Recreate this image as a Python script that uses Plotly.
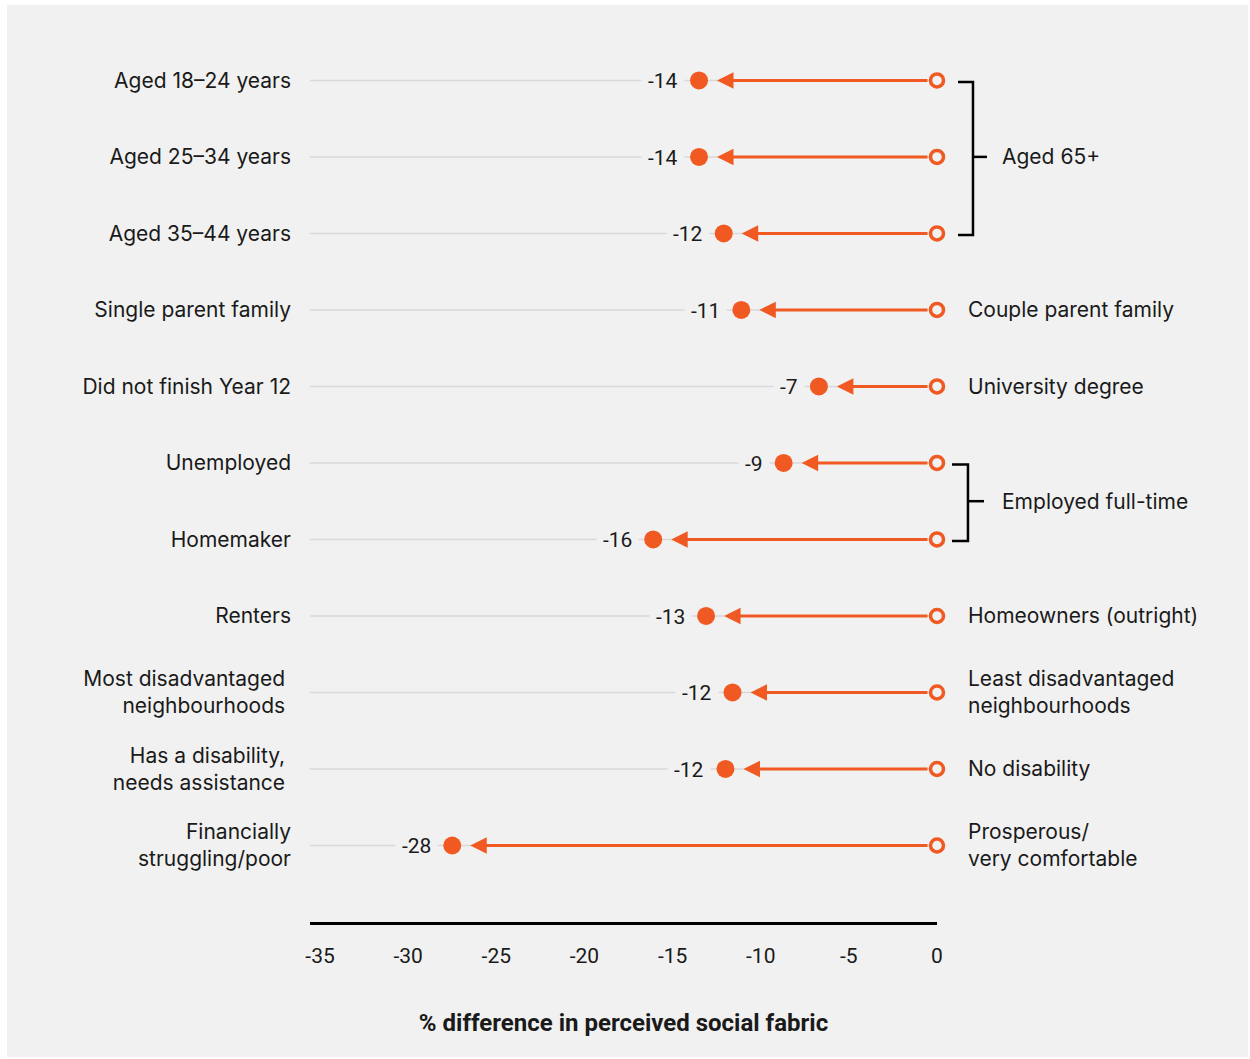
import plotly.graph_objects as go

# ---------------- data ----------------
left_labels = [
    "Aged 18–24 years", "Aged 25–34 years", "Aged 35–44 years",
    "Single parent family", "Did not finish Year 12", "Unemployed",
    "Homemaker", "Renters", "Most disadvantaged <br>neighbourhoods ",
    "Has a disability, <br>needs assistance ", "Financially<br>struggling/poor",
]
right_labels = [
    "", "", "", "Couple parent family", "University degree", "", "",
    "Homeowners (outright)", "Least disadvantaged<br>neighbourhoods",
    "No disability", "Prosperous/<br>very comfortable",
]
values = [-13.5, -13.5, -12.1, -11.1, -6.7, -8.7, -16.1, -13.1, -11.6, -12.0, -27.5]
value_text = ["-14", "-14", "-12", "-11", "-7", "-9", "-16", "-13", "-12", "-12", "-28"]
reference_value = [0] * len(values)
groups = [("Aged 65+", 0, 2), ("Employed full-time", 5, 6)]
x_ticks = [-35, -30, -25, -20, -15, -10, -5, 0]
x_title = "% difference in perceived social fabric"

# ---------------- style ----------------
ORANGE = "#F05A22"
BG = "#F1F1F1"
GRID = "#D9D9D9"
TXT = "#1A1A1A"
LABEL_FONT = "Inter, 'Noto Sans', sans-serif"
NUM_FONT = "Roboto, 'Liberation Sans', sans-serif"
XMIN = -35.57

rows = list(range(len(values)))

fig = go.Figure()

# grey guide lines
gx, gy = [], []
for r in rows:
    gx += [XMIN, 0, None]
    gy += [r, r, None]
fig.add_trace(go.Scatter(x=gx, y=gy, mode="lines",
                         line=dict(color=GRID, width=1.5),
                         hoverinfo="skip", showlegend=False, cliponaxis=False))

# filled dots (comparison group)
fig.add_trace(go.Scatter(x=values, y=rows, mode="markers",
                         marker=dict(size=18, color=ORANGE),
                         showlegend=False, cliponaxis=False))
# hollow dots (reference group)
fig.add_trace(go.Scatter(x=reference_value, y=rows, mode="markers",
                         marker=dict(size=13, color=BG, line=dict(color=ORANGE, width=3.5)),
                         showlegend=False, cliponaxis=False))

annotations = []
for r, v, t in zip(rows, values, value_text):
    # arrow from reference to value
    annotations.append(dict(
        x=v, y=r, ax=0, ay=r, xref="x", yref="y", axref="x", ayref="y",
        text="", showarrow=True, arrowhead=2, arrowsize=1.1, arrowwidth=3,
        arrowcolor=ORANGE, standoff=18, startstandoff=8,
    ))
    # value label
    annotations.append(dict(
        x=v, y=r, xref="x", yref="y", text=t, showarrow=False,
        xanchor="right", yanchor="middle", xshift=-14, yshift=-1,
        bgcolor=BG, borderpad=6,
        font=dict(family=NUM_FONT, size=21, color=TXT),
    ))

for r, lab in zip(rows, right_labels):
    if lab:
        annotations.append(dict(
            x=0, y=r, xref="x", yref="y", text=lab, showarrow=False,
            xanchor="left", yanchor="middle", align="left", xshift=29,
            font=dict(family=LABEL_FONT, size=21, color=TXT),
        ))

shapes = []
bracket_specs = [(1.0335, 1.0574, 1.0797), (1.0239, 1.0494, 1.0750)]
for (lab, r0, r1), (bx0, bx1, bx2) in zip(groups, bracket_specs):
    mid = (r0 + r1) / 2
    shapes.append(dict(
        type="path", xref="paper", yref="y",
        path=f"M{bx0},{r0 + 0.02} L{bx1},{r0 + 0.02} L{bx1},{r1 + 0.02} L{bx0},{r1 + 0.02}",
        line=dict(color="black", width=2.5),
    ))
    shapes.append(dict(
        type="line", xref="paper", yref="y",
        x0=bx1, x1=bx2, y0=mid, y1=mid,
        line=dict(color="black", width=2.5),
    ))
    annotations.append(dict(
        x=0, y=mid, xref="x", yref="y", text=lab, showarrow=False,
        xanchor="left", yanchor="middle", xshift=63,
        font=dict(family=LABEL_FONT, size=21, color=TXT),
    ))

# grey panel background with white border
shapes.append(dict(type="rect", xref="paper", yref="paper",
                   x0=-0.48325, x1=1.49601, y0=-0.15017, y1=1.02002,
                   fillcolor=BG, line=dict(width=0), layer="below"))

fig.update_layout(
    width=1250, height=1059,
    margin=dict(l=310, r=313, t=23, b=137),
    paper_bgcolor="white", plot_bgcolor=BG,
    showlegend=False,
    annotations=annotations, shapes=shapes,
    font=dict(family=LABEL_FONT, color=TXT),
)
fig.update_xaxes(
    range=[XMIN, 0], tickvals=x_ticks, ticktext=[str(t) for t in x_ticks],
    showgrid=False, zeroline=False, showline=True, linecolor="black", linewidth=3,
    ticks="", ticklabelstandoff=13,
    tickfont=dict(family=NUM_FONT, size=21, color=TXT),
    title=dict(text=f"<b>{x_title}</b>", standoff=47,
               font=dict(family=NUM_FONT, size=24, color=TXT)),
)
fig.update_yaxes(
    range=[11, -0.75], tickvals=rows, ticktext=left_labels,
    showgrid=False, zeroline=False, showline=False, ticks="",
    ticklabelstandoff=18,
    tickfont=dict(family=LABEL_FONT, size=21, color=TXT),
)

fig.write_html("out.html", config={"displayModeBar": False},
               post_script="document.body.style.margin='0';")
